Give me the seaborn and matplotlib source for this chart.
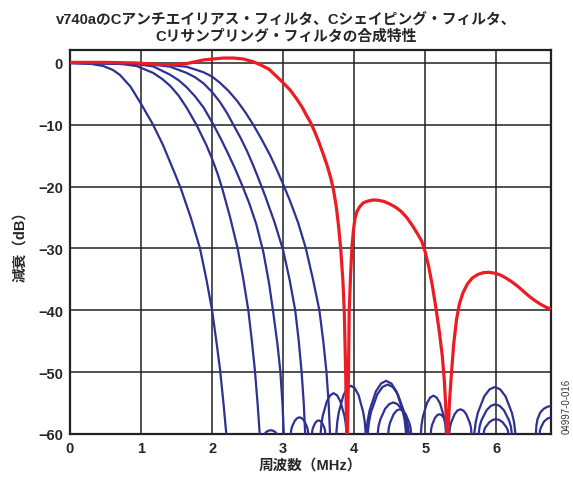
import numpy as np
import pandas as pd
import matplotlib
matplotlib.use("Agg")
import matplotlib.pyplot as plt
import seaborn as sns

# ---------------- data ----------------
title_text = "v740aのCアンチエイリアス・フィルタ、Cシェイピング・フィルタ、\nCリサンプリング・フィルタの合成特性"
x_label = "周波数（MHz）"
y_label = "減衰（dB）"
note_text = "04997-0-016"
x_ticks = [0, 1, 2, 3, 4, 5, 6]
y_ticks = [0, -10, -20, -30, -40, -50, -60]

# combined (red) response
red_x = [0.00, 0.50, 0.94, 1.20, 1.41, 1.64, 1.88, 2.16, 2.30, 2.44, 2.58, 2.68, 2.80,
         2.91, 3.00, 3.10, 3.19, 3.27, 3.33, 3.38, 3.44, 3.50, 3.56, 3.62, 3.67, 3.71,
         3.75, 3.78, 3.81, 3.84, 3.86, 3.88, 3.895, 3.90, 3.905, 3.92, 3.93, 3.95, 3.97,
         3.99, 4.01, 4.04, 4.08, 4.13, 4.20, 4.27, 4.34, 4.42, 4.50, 4.58, 4.66, 4.74,
         4.82, 4.89, 4.95, 5.00, 5.05, 5.10, 5.15, 5.20, 5.24, 5.27, 5.29, 5.305, 5.31,
         5.32, 5.34, 5.37, 5.40, 5.44, 5.48, 5.53, 5.59, 5.66, 5.74, 5.82, 5.90, 5.98,
         6.06, 6.14, 6.22, 6.30, 6.38, 6.46, 6.54, 6.62, 6.70, 6.78]
red_y = [0.1, 0.1, 0.0, -0.2, -0.3, -0.1, 0.5, 0.8, 0.8, 0.65, 0.2, -0.3, -1.0,
         -2.2, -3.2, -4.4, -5.8, -7.2, -8.5, -9.5, -11.0, -12.7, -14.6, -16.6, -18.6, -20.6,
         -23.4, -26.4, -30.0, -35.0, -40.0, -50.0, -60.0, -75.0, -60.0, -50.0, -40.0, -34.0, -29.5,
         -27.0, -25.2, -24.0, -23.2, -22.6, -22.3, -22.15, -22.2, -22.4, -22.8, -23.3, -24.0, -25.0,
         -26.3, -27.6, -28.8, -30.6, -33.0, -36.0, -39.6, -43.6, -47.4, -51.5, -56.0, -60.0, -75.0,
         -60.0, -55.0, -50.0, -45.5, -41.5, -39.0, -37.2, -35.8, -34.8, -34.2, -33.9, -33.85, -34.0,
         -34.3, -34.8, -35.4, -36.1, -36.9, -37.7, -38.4, -39.0, -39.5, -39.8]

# blue responses (main lobe followed by the visible side lobes)
blue1_x = [0.00, 0.15, 0.30, 0.47, 0.60, 0.70, 0.85, 1.00, 1.17, 1.31, 1.48, 1.56, 1.70,
           1.83, 1.92, 2.00, 2.06, 2.11, 2.16, 2.20, 2.22,
           3.40, 3.41, 3.42, 3.45, 3.475, 3.50, 3.525, 3.55, 3.58, 3.59, 3.60]
blue1_y = [0.0, -0.05, -0.15, -0.5, -1.1, -1.9, -3.8, -6.6, -10.0, -13.3, -18.0, -20.3, -25.0,
           -30.0, -35.0, -40.0, -45.0, -49.4, -55.0, -60.0, -63.0,
           -61.0, -59.45, -59.0, -58.24, -57.91, -57.8, -57.91, -58.24, -59.0, -59.45, -61.0]

blue2_x = [0.00, 0.50, 0.75, 0.94, 1.17, 1.30, 1.41, 1.53, 1.64, 1.78, 1.92, 2.00, 2.08,
           2.14, 2.25, 2.36, 2.44, 2.51, 2.56, 2.60, 2.64, 2.67, 2.69,
           2.74, 2.748, 2.757, 2.783, 2.804, 2.825, 2.846, 2.868, 2.893, 2.902, 2.91,
           4.47, 4.487, 4.504, 4.555, 4.598, 4.64, 4.683, 4.725, 4.776, 4.793, 4.81,
           5.81, 5.829, 5.847, 5.903, 5.949, 5.995, 6.041, 6.088, 6.143, 6.162, 6.18]
blue2_y = [0.0, -0.05, -0.2, -0.5, -1.6, -2.6, -3.7, -5.3, -7.2, -10.0, -13.3, -15.5, -18.0,
           -20.2, -24.8, -30.0, -35.0, -40.0, -45.0, -49.4, -55.0, -60.0, -63.0,
           -61.0, -59.85, -59.73, -59.52, -59.43, -59.4, -59.43, -59.52, -59.73, -59.85, -61.0,
           -61.0, -59.0, -58.2, -56.8, -56.2, -56.0, -56.2, -56.8, -58.2, -59.0, -61.0,
           -61.0, -59.4, -58.92, -58.08, -57.72, -57.6, -57.72, -58.08, -58.92, -59.4, -61.0]

blue3_x = [0.00, 0.60, 0.95, 1.17, 1.41, 1.53, 1.64, 1.76, 1.88, 2.02, 2.12, 2.21, 2.32,
           2.42, 2.52, 2.62, 2.72, 2.80, 2.86, 2.92, 2.96, 2.99, 3.01, 3.03,
           3.10, 3.113, 3.126, 3.165, 3.198, 3.23, 3.263, 3.295, 3.334, 3.347, 3.36,
           4.32, 4.343, 4.366, 4.435, 4.493, 4.55, 4.608, 4.665, 4.734, 4.757, 4.78,
           5.07, 5.083, 5.096, 5.135, 5.168, 5.20, 5.233, 5.265, 5.304, 5.317, 5.33]
blue3_y = [0.0, -0.05, -0.2, -0.55, -1.9, -2.8, -3.9, -5.4, -7.2, -10.0, -12.2, -14.3, -17.0,
           -19.7, -22.6, -26.0, -30.5, -35.5, -40.3, -45.5, -49.8, -55.0, -60.0, -63.0,
           -61.0, -59.33, -58.79, -57.84, -57.44, -57.3, -57.44, -57.84, -58.79, -59.33, -61.0,
           -61.0, -58.73, -57.71, -55.92, -55.16, -54.9, -55.16, -55.92, -57.71, -58.73, -61.0,
           -61.0, -59.2, -58.56, -57.44, -56.96, -56.8, -56.96, -57.44, -58.56, -59.2, -61.0]

blue4_x = [0.00, 0.80, 1.15, 1.41, 1.64, 1.76, 1.88, 2.00, 2.11, 2.21, 2.30, 2.40, 2.49,
           2.58, 2.66, 2.75, 2.88, 3.00, 3.09, 3.17, 3.22, 3.26, 3.29, 3.31, 3.33,
           3.52, 3.539, 3.558, 3.615, 3.663, 3.71, 3.758, 3.805, 3.862, 3.881, 3.90,
           4.18, 4.209, 4.238, 4.325, 4.398, 4.47, 4.543, 4.615, 4.702, 4.731, 4.76,
           5.33, 5.347, 5.363, 5.413, 5.454, 5.495, 5.536, 5.578, 5.627, 5.644, 5.66,
           5.74, 5.765, 5.789, 5.863, 5.924, 5.985, 6.046, 6.108, 6.181, 6.206, 6.23,
           6.60, 6.615, 6.63, 6.67, 6.72, 6.77, 6.85]
blue4_y = [0.0, -0.1, -0.25, -0.6, -1.6, -2.3, -3.3, -4.7, -6.3, -8.1, -10.0, -12.1, -14.2,
           -16.6, -18.9, -21.6, -25.8, -30.3, -35.0, -40.0, -45.0, -50.0, -55.0, -60.0, -63.0,
           -61.0, -58.35, -57.03, -54.72, -53.73, -53.4, -53.73, -54.72, -57.03, -58.35, -61.0,
           -61.0, -58.0, -56.4, -53.6, -52.4, -52.0, -52.4, -53.6, -56.4, -58.0, -61.0,
           -61.0, -59.0, -58.2, -56.8, -56.2, -56.0, -56.2, -56.8, -58.2, -59.0, -61.0,
           -61.0, -58.8, -57.84, -56.16, -55.44, -55.2, -55.44, -56.16, -57.84, -58.8, -61.0,
           -61.0, -59.4, -58.9, -58.0, -57.5, -57.3, -57.2]

blue5_x = [0.00, 0.90, 1.30, 1.64, 1.88, 2.00, 2.11, 2.23, 2.35, 2.47, 2.58, 2.70, 2.82,
           2.92, 3.00, 3.10, 3.21, 3.32, 3.42, 3.51, 3.565, 3.61, 3.64, 3.66, 3.68,
           3.74, 3.762, 3.783, 3.848, 3.901, 3.955, 4.009, 4.063, 4.127, 4.149, 4.17,
           4.16, 4.189, 4.218, 4.305, 4.378, 4.45, 4.523, 4.595, 4.682, 4.711, 4.74,
           4.93, 4.949, 4.967, 5.023, 5.069, 5.115, 5.161, 5.208, 5.263, 5.282, 5.30,
           5.68, 5.71, 5.74, 5.83, 5.905, 5.98, 6.055, 6.13, 6.22, 6.25, 6.28,
           6.55, 6.565, 6.58, 6.62, 6.67, 6.72, 6.78, 6.85]
blue5_y = [0.0, -0.1, -0.25, -0.6, -1.5, -2.2, -3.2, -4.5, -6.1, -8.0, -10.0, -12.4, -15.0,
           -17.5, -19.6, -22.4, -25.8, -30.0, -35.0, -40.0, -45.0, -50.0, -55.0, -60.0, -63.0,
           -61.0, -58.05, -56.49, -53.76, -52.59, -52.2, -52.59, -53.76, -56.49, -58.05, -61.0,
           -61.0, -57.85, -56.13, -53.12, -51.83, -51.4, -51.83, -53.12, -56.13, -57.85, -61.0,
           -61.0, -58.45, -57.21, -55.04, -54.11, -53.8, -54.11, -55.04, -57.21, -58.45, -61.0,
           -61.0, -58.1, -56.58, -53.92, -52.78, -52.4, -52.78, -53.92, -56.58, -58.1, -61.0,
           -61.0, -58.6, -57.6, -56.5, -55.9, -55.6, -55.4, -55.3]

# ---------------- drawing ----------------
sns.set_style("white")
plt.rcParams['font.family'] = ['Liberation Sans', 'Noto Sans CJK JP', 'DejaVu Sans']
plt.rcParams['axes.unicode_minus'] = True

BLUE = "#2e3192"
RED = "#ec1c24"

fig = plt.figure(figsize=(5.73, 4.81), dpi=100)
ax = fig.add_axes([70/573, 1 - 435/481, (551 - 70)/573, (435 - 51)/481])

blues = [(blue1_x, blue1_y), (blue2_x, blue2_y), (blue3_x, blue3_y),
         (blue4_x, blue4_y), (blue5_x, blue5_y)]
for bx, by in blues:
    df = pd.DataFrame({"f": bx, "db": by})
    sns.lineplot(data=df, x="f", y="db", ax=ax, color=BLUE, lw=1.6,
                 sort=False, estimator=None, zorder=3)

df_red = pd.DataFrame({"f": red_x, "db": red_y})
sns.lineplot(data=df_red, x="f", y="db", ax=ax, color=RED, lw=2.3,
             sort=False, estimator=None, zorder=4)

ax.set_xlim(0, 6.77)
ax.set_ylim(-60, 2.1)
ax.set_xticks(x_ticks)
ax.set_yticks(y_ticks)
ax.set_xticklabels([str(t) for t in x_ticks], fontsize=10.5, fontweight="bold")
ax.set_yticklabels([str(t).replace("-", "\u2212") for t in y_ticks], fontsize=10.5, fontweight="bold")
ax.tick_params(length=0, pad=5)
ax.grid(True, color="#222222", lw=1.1)
ax.set_axisbelow(True)
for s in ax.spines.values():
    s.set_color("#222222")
    s.set_linewidth(1.6)
    s.set_visible(True)

ax.set_xlabel(x_label, fontsize=10.5, fontweight="bold", labelpad=2)
ax.set_ylabel(y_label, fontsize=10.5, fontweight="bold", labelpad=8)

fig.text(0.5, 1 - 28/481, title_text, ha="center", va="center",
         fontsize=10.6, fontweight="bold", linespacing=1.3)
fig.text(567/573, 1 - 406/481, note_text, rotation=90, ha="center", va="center",
         fontsize=7, color="#333333")

fig.savefig("out.png", dpi=100)
